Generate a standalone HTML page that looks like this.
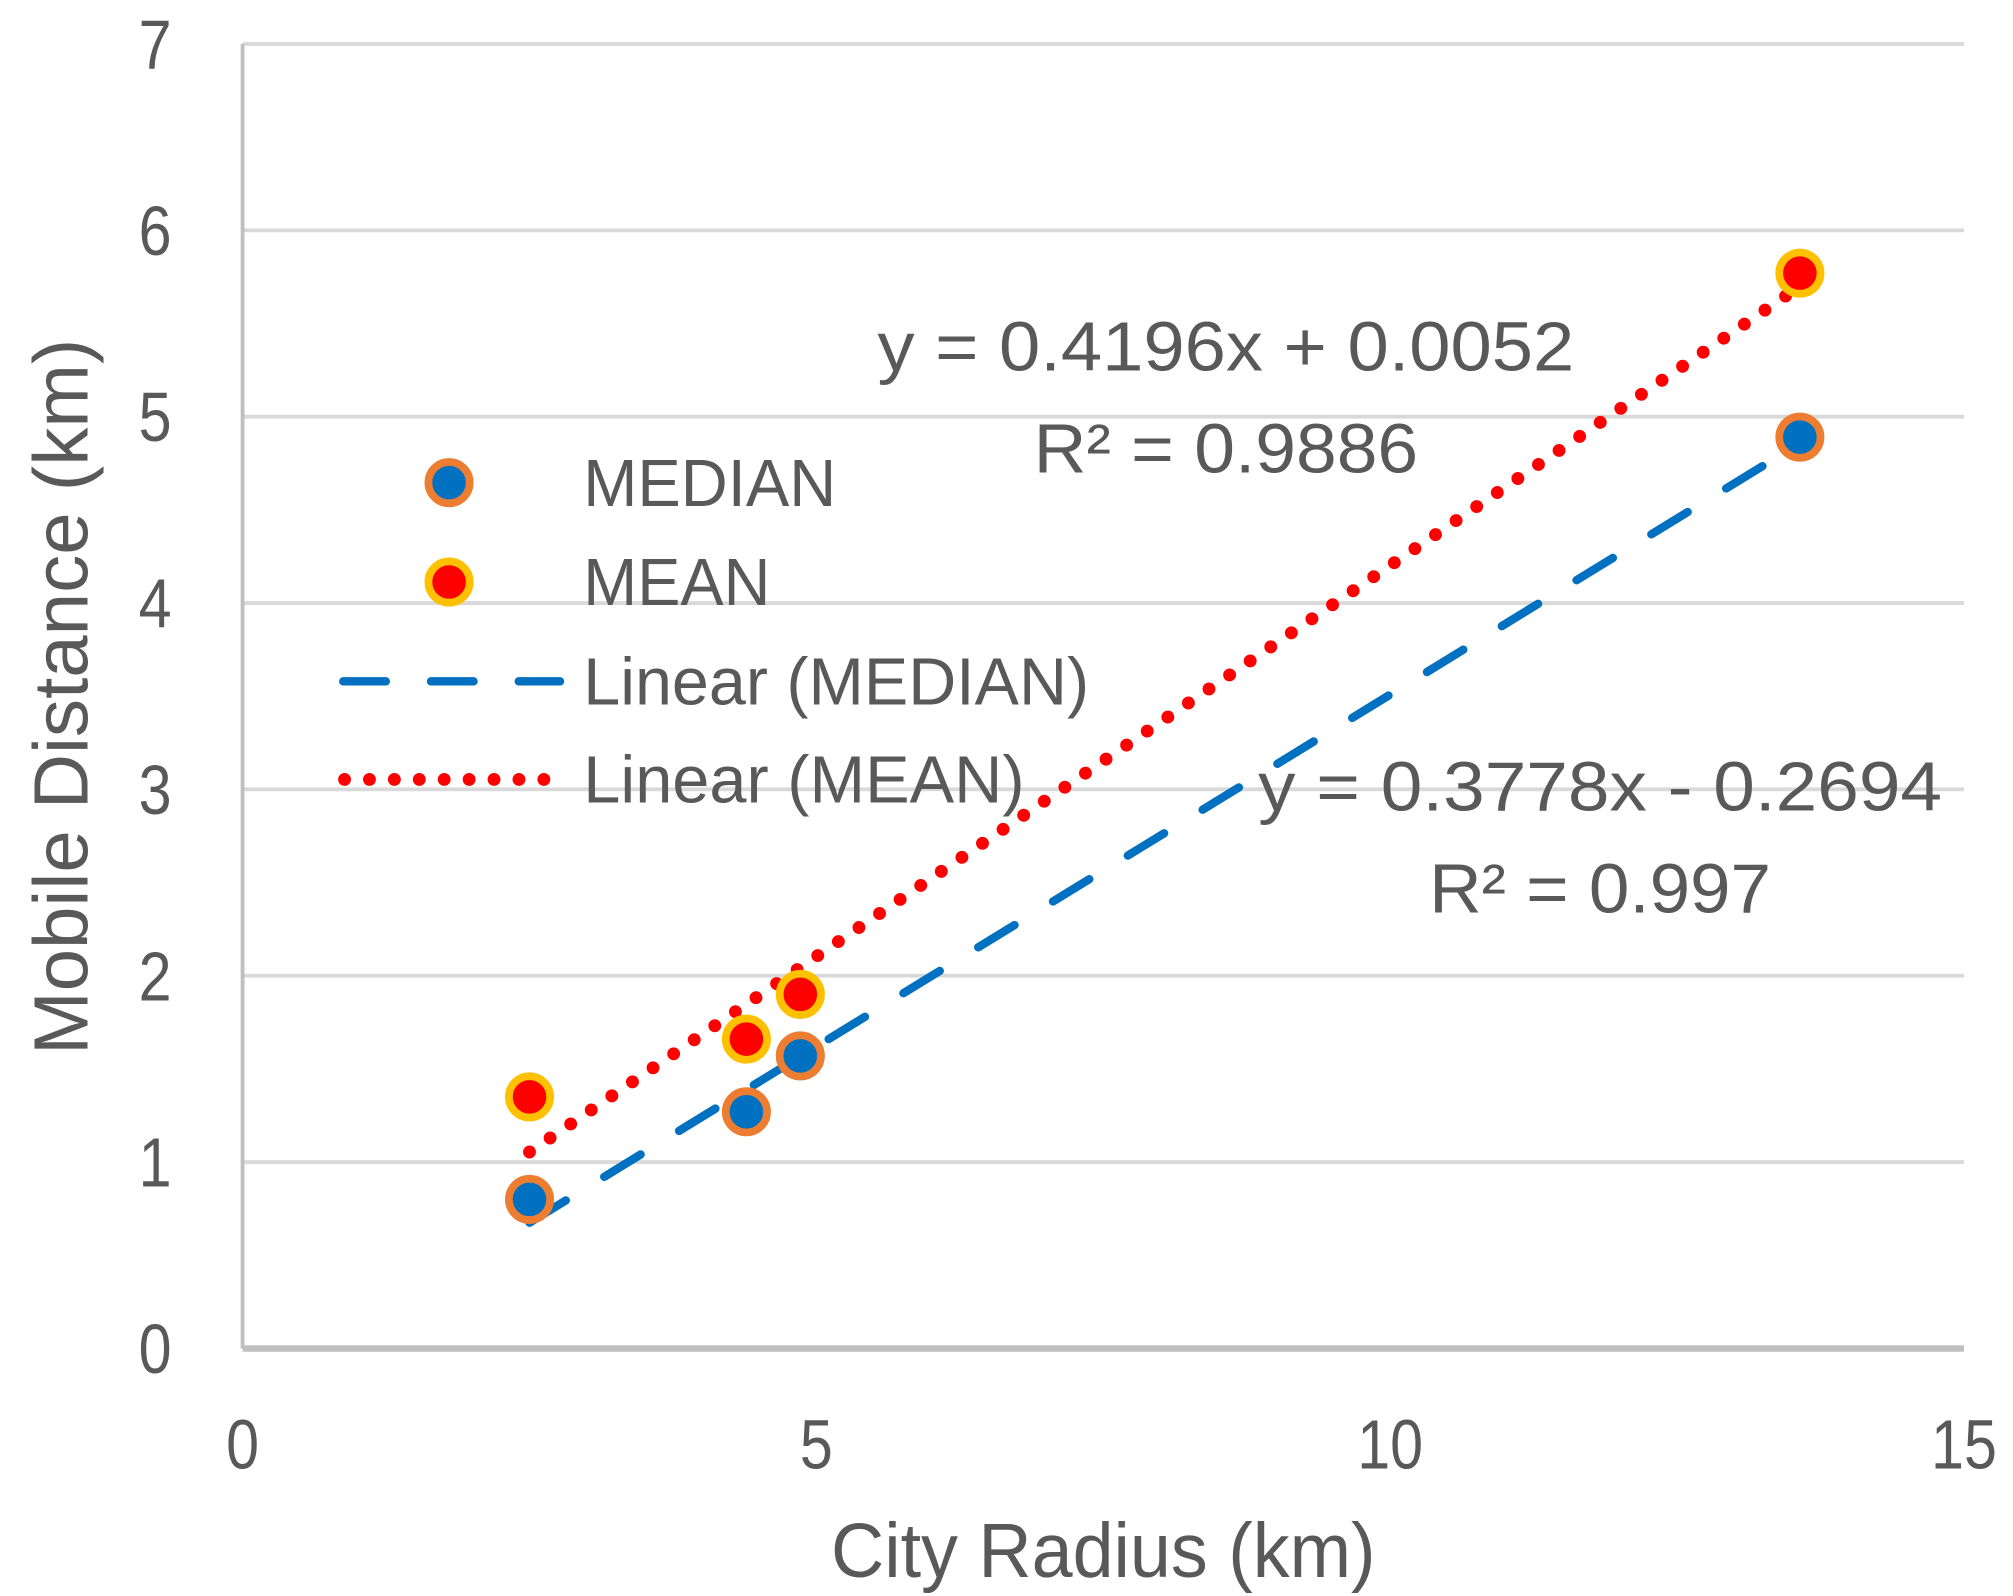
<!DOCTYPE html>
<html><head><meta charset="utf-8"><style>
html,body{margin:0;padding:0;background:#fff;}
svg{display:block;}
text{font-family:"Liberation Sans",sans-serif;fill:#595959;}
</style></head><body>
<svg id="chart" width="2013" height="1596" viewBox="0 0 1560 1236.8" xmlns="http://www.w3.org/2000/svg">
<rect x="0" y="0" width="1560" height="1237" fill="#fff"/>
<g id="grid"></g>
<g id="axes"></g>
<g id="trend"></g>
<g id="points"></g>
<text x="950" y="287" font-size="54" text-anchor="middle" textLength="540" lengthAdjust="spacingAndGlyphs">y = 0.4196x + 0.0052</text>
<text x="950" y="366" font-size="54" text-anchor="middle" textLength="298" lengthAdjust="spacingAndGlyphs">R² = 0.9886</text>
<text x="1240" y="628" font-size="54" text-anchor="middle" textLength="530" lengthAdjust="spacingAndGlyphs">y = 0.3778x - 0.2694</text>
<text x="1240" y="707" font-size="54" text-anchor="middle" textLength="265" lengthAdjust="spacingAndGlyphs">R² = 0.997</text>
<g>
  <circle cx="348" cy="374" r="16" fill="#0070C0" stroke="#ED7D31" stroke-width="6"/>
  <text x="452" y="392" font-size="52" textLength="196" lengthAdjust="spacingAndGlyphs">MEDIAN</text>
  <circle cx="348" cy="451" r="16" fill="#FF0000" stroke="#FFC000" stroke-width="6"/>
  <text x="452" y="469" font-size="52" textLength="145" lengthAdjust="spacingAndGlyphs">MEAN</text>
  <line x1="266" y1="528" x2="434" y2="528" stroke="#0070C0" stroke-width="6.5" stroke-dasharray="33 35" stroke-linecap="round"/>
  <text x="452" y="546" font-size="52" textLength="392" lengthAdjust="spacingAndGlyphs">Linear (MEDIAN)</text>
  <line x1="267" y1="604" x2="434" y2="604" stroke="#FF0000" stroke-width="10" stroke-dasharray="0.01 19.3" stroke-linecap="round"/>
  <text x="452" y="622" font-size="52" textLength="342" lengthAdjust="spacingAndGlyphs">Linear (MEAN)</text>
</g>
<text x="855" y="1222" font-size="60" text-anchor="middle" textLength="422" lengthAdjust="spacingAndGlyphs">City Radius (km)</text>
<text transform="translate(68,540) rotate(-90)" font-size="60" text-anchor="middle" textLength="555" lengthAdjust="spacingAndGlyphs">Mobile Distance (km)</text>
</svg>
<script>
const xTicks = [0, 5, 10, 15];
const yTicks = [0, 1, 2, 3, 4, 5, 6, 7];
const medianX = [2.5, 4.39, 4.86, 13.57];
const medianY = [0.80, 1.27, 1.57, 4.89];
const meanX = [2.5, 4.39, 4.86, 13.57];
const meanY = [1.35, 1.66, 1.90, 5.77];
const medianFit = [0.3778, -0.2694];
const meanFit = [0.4196, 0.0052];

const NS = 'http://www.w3.org/2000/svg';
const L = 188, R = 1522, B = 1045, T = 34;
function sx(v){ return L + (v - 0) / 15 * (R - L); }
function sy(v){ return B - (v - 0) / 7 * (B - T); }
function mk(tag, attrs, parent){
  const e = document.createElementNS(NS, tag);
  for (const k in attrs) e.setAttribute(k, attrs[k]);
  parent.appendChild(e);
  return e;
}
const grid = document.getElementById('grid');
const axes = document.getElementById('axes');
yTicks.forEach(v => {
  if (v > 0) {
    const g = mk('line', {x1: L, x2: R, y1: sy(v), y2: sy(v), stroke: '#d9d9d9', 'stroke-width': 3}, grid);
    
    
  }
  const t = mk('text', {x: 0, y: 0, 'font-size': 54, 'text-anchor': 'end', transform: 'translate(133,' + (sy(v) + 19) + ') scale(0.85,1)'}, axes);
  t.textContent = v;
  
  
});
xTicks.forEach(v => {
  const t = mk('text', {x: 0, y: 0, 'font-size': 54, 'text-anchor': 'middle', transform: 'translate(' + sx(v) + ',1138) scale(0.85,1)'}, axes);
  t.textContent = v;
  
  
});
const ya = mk('line', {x1: L, x2: L, y1: T, y2: B, stroke: '#bfbfbf', 'stroke-width': 3}, axes);


const xa = mk('line', {x1: L, x2: R, y1: B, y2: B, stroke: '#bfbfbf', 'stroke-width': 5}, axes);



const trend = document.getElementById('trend');
function fitLine(xs, fit, attrs, name){
  const x0 = Math.min(...xs), x1 = Math.max(...xs);
  const a = Object.assign({x1: sx(x0), y1: sy(fit[0]*x0 + fit[1]), x2: sx(x1), y2: sy(fit[0]*x1 + fit[1])}, attrs);
  const l = mk('line', a, trend);
  
  
}
fitLine(medianX, medianFit, {stroke: '#0070C0', 'stroke-width': 6.5, 'stroke-dasharray': '33 35', 'stroke-linecap': 'round'}, 'trendline-median');
fitLine(meanX, meanFit, {stroke: '#FF0000', 'stroke-width': 10, 'stroke-dasharray': '0.01 19.3', 'stroke-linecap': 'round'}, 'trendline-mean');

const pts = document.getElementById('points');
medianX.forEach((x, i) => {
  const c = mk('circle', {cx: sx(x), cy: sy(medianY[i]), r: 16, fill: '#0070C0', stroke: '#ED7D31', 'stroke-width': 6}, pts);
  
  
});
meanX.forEach((x, i) => {
  const c = mk('circle', {cx: sx(x), cy: sy(meanY[i]), r: 16, fill: '#FF0000', stroke: '#FFC000', 'stroke-width': 6}, pts);
  
  
});
</script>
</body></html>
